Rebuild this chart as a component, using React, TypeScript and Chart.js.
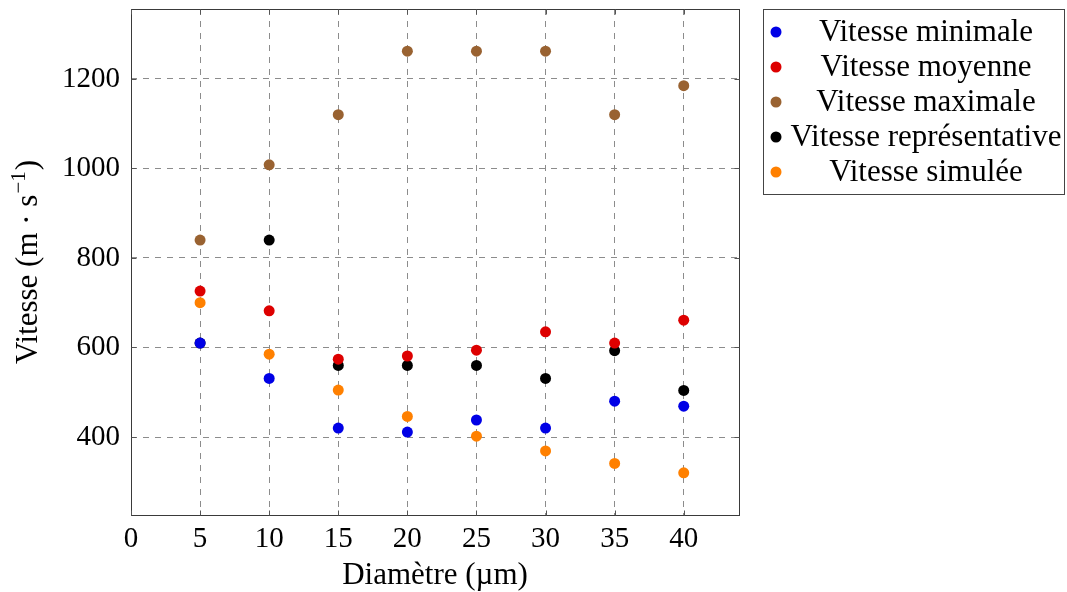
import React, { useEffect, useRef } from "react";
import { Chart, registerables } from "chart.js";

Chart.register(...registerables);

// ---- data ----
const diametres = [5, 10, 15, 20, 25, 30, 35, 40];
const vitesseMinimale = [610, 531, 420, 411, 438, 420, 480, 469];
const vitesseMoyenne = [726, 682, 574, 581, 594, 635, 610, 661];
const vitesseMaximale = [840, 1008, 1120, 1262, 1262, 1262, 1120, 1185];
const vitesseRepresentative = [610, 840, 560, 560, 560, 531, 593, 504];
const vitesseSimulee = [700, 585, 505, 446, 402, 369, 341, 320];

const seriesLabels = [
  "Vitesse minimale",
  "Vitesse moyenne",
  "Vitesse maximale",
  "Vitesse représentative",
  "Vitesse simulée",
];
const seriesColors = ["#0000e6", "#dd0000", "#996231", "#000000", "#ff8000"];

const xTicks = [0, 5, 10, 15, 20, 25, 30, 35, 40];
const yTicks = [400, 600, 800, 1000, 1200];
const xTitle = "Diamètre (µm)";
const yTitleMain = "Vitesse (m · s";
const yTitleSup = "−1";
const yTitleEnd = ")";

const FONT = "'Liberation Serif', 'DejaVu Serif', serif";

export default function App() {
  const ref = useRef<HTMLCanvasElement | null>(null);

  useEffect(() => {
    document.body.style.margin = "0";
    const canvas = ref.current;
    if (!canvas) return;
    const allSeries = [
      vitesseMinimale,
      vitesseMoyenne,
      vitesseMaximale,
      vitesseRepresentative,
      vitesseSimulee,
    ];

    const decor = {
      id: "decor",
      afterDraw(chart: any) {
        const ctx = chart.ctx as CanvasRenderingContext2D;
        const a = chart.chartArea;
        const xs = chart.scales.x;
        const ys = chart.scales.y;
        ctx.save();
        // frame
        ctx.strokeStyle = "#3a3a3a";
        ctx.lineWidth = 1;
        const L = Math.round(a.left) + 0.5;
        const R = Math.round(a.right) + 0.5;
        const T = Math.round(a.top) + 0.5;
        const B = Math.round(a.bottom) + 0.5;
        ctx.strokeRect(L, T, R - L, B - T);
        // inside ticks
        ctx.strokeStyle = "#555";
        ctx.beginPath();
        xTicks.forEach((v) => {
          const p = Math.round(xs.getPixelForValue(v)) + 0.5;
          ctx.moveTo(p, B);
          ctx.lineTo(p, B - 5);
          ctx.moveTo(p, T);
          ctx.lineTo(p, T + 5);
        });
        yTicks.forEach((v) => {
          const p = Math.round(ys.getPixelForValue(v)) + 0.5;
          ctx.moveTo(L, p);
          ctx.lineTo(L + 5, p);
          ctx.moveTo(R, p);
          ctx.lineTo(R - 5, p);
        });
        ctx.stroke();

        // x title
        ctx.fillStyle = "#000";
        ctx.font = `31px ${FONT}`;
        ctx.textAlign = "center";
        ctx.textBaseline = "alphabetic";
        ctx.fillText(xTitle, (a.left + a.right) / 2, 584);

        // y title (rotated, with superscript)
        ctx.save();
        const cy = (a.top + a.bottom) / 2;
        ctx.translate(37, cy);
        ctx.rotate(-Math.PI / 2);
        ctx.textAlign = "left";
        ctx.font = `31px ${FONT}`;
        const w1 = ctx.measureText(yTitleMain).width;
        const w3 = ctx.measureText(yTitleEnd).width;
        ctx.font = `21px ${FONT}`;
        const w2 = ctx.measureText(yTitleSup).width;
        const total = w1 + w2 + w3 + 2;
        let xx = -total / 2;
        ctx.font = `31px ${FONT}`;
        ctx.fillText(yTitleMain, xx, 0);
        xx += w1 + 1;
        ctx.font = `21px ${FONT}`;
        ctx.fillText(yTitleSup, xx, -12);
        xx += w2 + 1;
        ctx.font = `31px ${FONT}`;
        ctx.fillText(yTitleEnd, xx, 0);
        ctx.restore();

        // legend
        const lx = 763.5;
        const ly = 9.5;
        const lw = 301;
        const lh = 185;
        ctx.strokeStyle = "#444";
        ctx.lineWidth = 1;
        ctx.strokeRect(lx, ly, lw, lh);
        ctx.font = `31px ${FONT}`;
        ctx.textAlign = "center";
        ctx.textBaseline = "middle";
        seriesLabels.forEach((label, i) => {
          const y = 32 + i * 35;
          ctx.fillStyle = seriesColors[i];
          ctx.beginPath();
          ctx.arc(776, y, 5.5, 0, Math.PI * 2);
          ctx.fill();
          ctx.fillStyle = "#000";
          ctx.fillText(label, 926, y + 1);
        });
        ctx.restore();
      },
    };

    const chart = new Chart(canvas, {
      type: "scatter",
      data: {
        datasets: allSeries.map((s, i) => ({
          label: seriesLabels[i],
          data: diametres.map((d, j) => ({ x: d, y: s[j] })),
          backgroundColor: seriesColors[i],
          borderColor: seriesColors[i],
          borderWidth: 0,
          pointRadius: 5.5,
          pointHoverRadius: 5.5,
          showLine: false,
        })),
      },
      options: {
        responsive: false,
        animation: false,
        events: [],
        layout: { autoPadding: false, padding: { top: 9, right: 328, left: 0, bottom: 0 } },
        plugins: {
          legend: { display: false },
          tooltip: { enabled: false },
          title: { display: false },
        },
        scales: {
          x: {
            type: "linear",
            min: 0,
            max: 44,
            afterBuildTicks: (s: any) => {
              s.ticks = xTicks.map((v) => ({ value: v }));
            },
            afterFit: (s: any) => {
              s.height = 77;
              s.paddingLeft = 0;
              s.paddingRight = 0;
            },
            ticks: {
              color: "#000",
              font: { family: FONT, size: 29 },
              padding: 7,
              maxRotation: 0,
              autoSkip: false,
              callback: (v: any) => String(v),
            },
            grid: { color: "#8c8c8c", lineWidth: 1, drawTicks: false },
            border: { display: false, dash: [6, 6] },
          },
          y: {
            type: "linear",
            min: 225.8,
            max: 1356.2,
            afterBuildTicks: (s: any) => {
              s.ticks = yTicks.map((v) => ({ value: v }));
            },
            afterFit: (s: any) => {
              s.width = 131;
              s.paddingTop = 0;
              s.paddingBottom = 0;
            },
            ticks: {
              color: "#000",
              font: { family: FONT, size: 29 },
              padding: 11,
              autoSkip: false,
              callback: (v: any) => String(v),
            },
            grid: { color: "#8c8c8c", lineWidth: 1, drawTicks: false },
            border: { display: false, dash: [6, 6] },
          },
        },
      },
      plugins: [decor],
    });
    return () => chart.destroy();
  }, []);

  return <canvas ref={ref} width={1067} height={592} style={{ display: "block" }} />;
}
